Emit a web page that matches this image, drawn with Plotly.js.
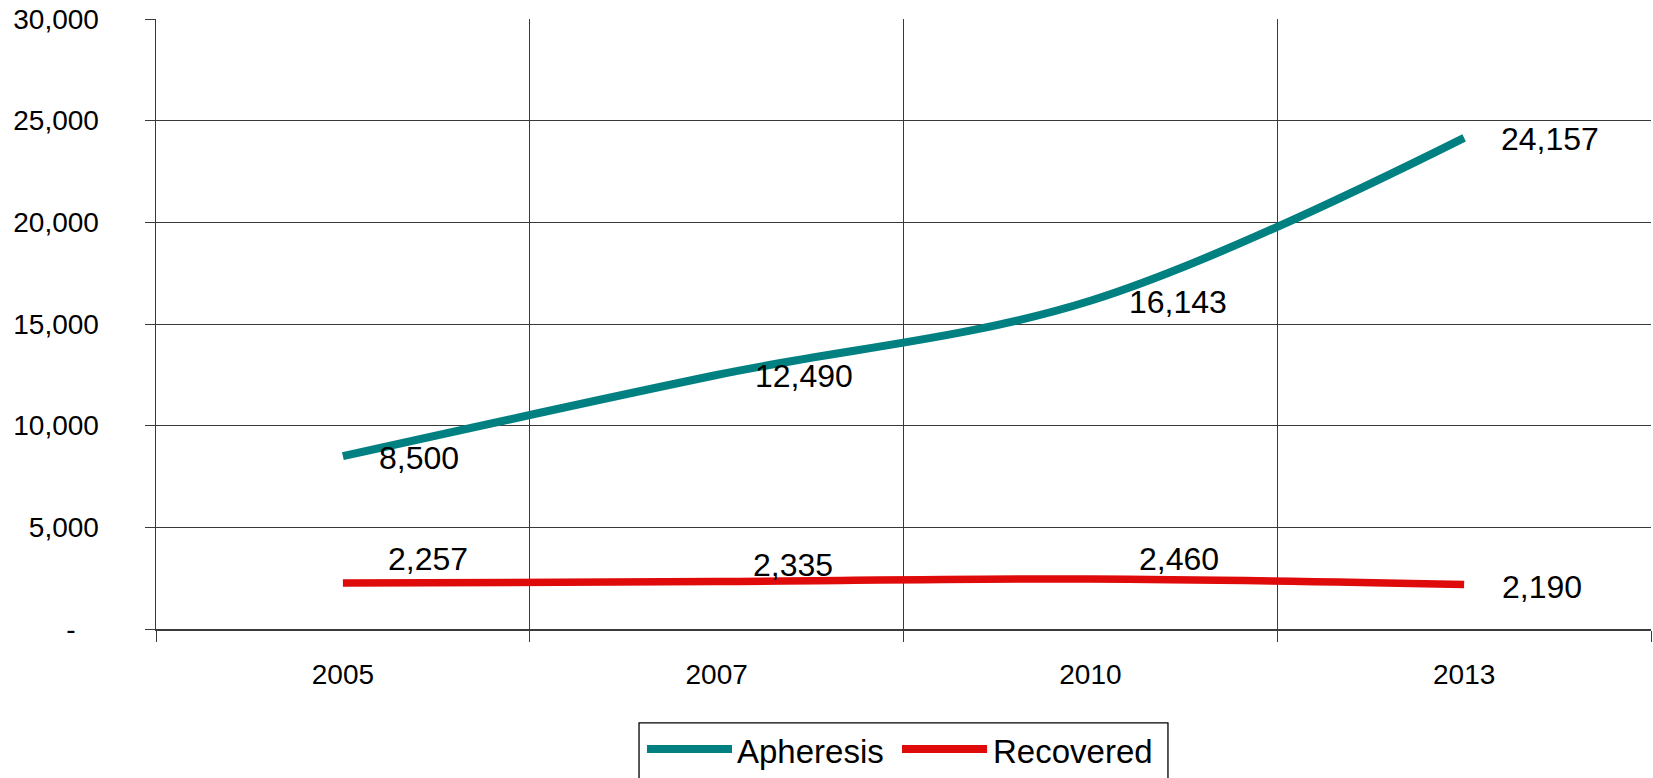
<!DOCTYPE html>
<html>
<head>
<meta charset="utf-8">
<script src="https://cdn.plot.ly/plotly-3.0.1.min.js"></script>
<style>
  html, body { margin: 0; padding: 0; background: #ffffff; }
  #chart { width: 1653px; height: 778px; }
</style>
</head>
<body>
<div id="chart"></div>
<script>
// ---- data ----
const years = ['2005', '2007', '2010', '2013'];
const apheresis = [8500, 12490, 16143, 24157];
const recovered = [2257, 2335, 2460, 2190];
const seriesNames = ['Apheresis', 'Recovered'];
const yTickVals = [0, 5000, 10000, 15000, 20000, 25000, 30000];
const yTickText = ['-\u00a0\u00a0\u00a0', '5,000', '10,000', '15,000', '20,000', '25,000', '30,000'];

// ---- style ----
const FONT = '"Liberation Sans", Arial, sans-serif';
const TEAL = '#008080';
const RED = '#DF0A0A';
const GRID = '#3a3a3a';
// label pixel nudges (style only)
const aphLabelShiftX = [34, 36, 37, 35];
const aphLabelShiftY = [-2, -1, -1, -1];
const recLabelShiftX = [43, 34, 47, 36];
const recLabelShiftY = [24, 17, 20, -3];

const fmt = v => v.toLocaleString('en-US');

const traces = [
  {
    x: years, y: apheresis, name: seriesNames[0], type: 'scatter', mode: 'lines',
    line: { color: TEAL, width: 8, shape: 'spline', smoothing: 1 },
    hoverinfo: 'x+y+name'
  },
  {
    x: years, y: recovered, name: seriesNames[1], type: 'scatter', mode: 'lines',
    line: { color: RED, width: 7.5, shape: 'spline', smoothing: 1 },
    hoverinfo: 'x+y+name'
  }
];

const annotations = [];
years.forEach((yr, i) => {
  // category axis: annotation x is the category's serial index
  annotations.push({
    x: i, y: apheresis[i], xref: 'x', yref: 'y', text: fmt(apheresis[i]),
    showarrow: false, xanchor: 'left', yanchor: 'middle',
    xshift: aphLabelShiftX[i], yshift: aphLabelShiftY[i],
    font: { family: FONT, size: 32, color: '#000' }
  });
  annotations.push({
    x: i, y: recovered[i], xref: 'x', yref: 'y', text: fmt(recovered[i]),
    showarrow: false, xanchor: 'left', yanchor: 'middle',
    xshift: recLabelShiftX[i], yshift: recLabelShiftY[i],
    font: { family: FONT, size: 32, color: '#000' }
  });
});

// custom legend (matching the long line samples of the original)
const legendItems = [
  { name: seriesNames[0], color: TEAL, x0: 0.3284, x1: 0.3853, tx: 0.3874 },
  { name: seriesNames[1], color: RED, x0: 0.4990, x1: 0.5559, tx: 0.5585 }
];
const legY = -0.1967;
const shapes = [
  { type: 'rect', xref: 'paper', yref: 'paper', x0: 0.3231, x1: 0.6769, y0: -0.154, y1: -0.32,
    line: { color: '#000', width: 1.3 }, fillcolor: 'rgba(0,0,0,0)' }
];
legendItems.forEach(it => {
  shapes.push({ type: 'line', xref: 'paper', yref: 'paper', x0: it.x0, x1: it.x1, y0: legY, y1: legY,
    line: { color: it.color, width: 8 } });
  annotations.push({ xref: 'paper', yref: 'paper', x: it.tx, y: legY - 0.004, text: it.name,
    showarrow: false, xanchor: 'left', yanchor: 'middle',
    font: { family: FONT, size: 33, color: '#000' } });
});

const layout = {
  width: 1653, height: 778,
  margin: { l: 156, r: 2, t: 19, b: 149 },
  paper_bgcolor: '#ffffff', plot_bgcolor: '#ffffff',
  font: { family: FONT, color: '#000' },
  showlegend: false,
  xaxis: {
    type: 'category', range: [-0.5, 3.5], tickson: 'boundaries',
    showgrid: true, gridcolor: GRID, gridwidth: 1,
    showline: true, linecolor: GRID, linewidth: 1.5,
    ticks: 'outside', ticklen: 11, tickcolor: GRID, tickwidth: 1,
    tickfont: { family: FONT, size: 28, color: '#000' },
    ticklabelstandoff: 20,
    zeroline: false, fixedrange: true
  },
  yaxis: {
    range: [0, 30000], tickvals: yTickVals, ticktext: yTickText,
    showgrid: true, gridcolor: GRID, gridwidth: 1,
    showline: true, linecolor: GRID, linewidth: 1.5,
    ticks: 'outside', ticklen: 10, tickcolor: GRID, tickwidth: 1,
    tickfont: { family: FONT, size: 28, color: '#000' },
    ticklabelstandoff: 40,
    zeroline: false, fixedrange: true
  },
  annotations: annotations,
  shapes: shapes
};

Plotly.newPlot('chart', traces, layout, { displayModeBar: false, staticPlot: true });
</script>
</body>
</html>
